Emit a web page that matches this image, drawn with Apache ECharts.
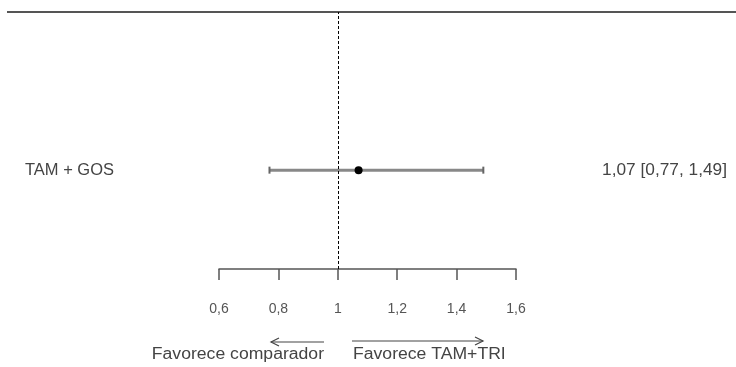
<!DOCTYPE html>
<html><head><meta charset="utf-8">
<script src="https://cdn.jsdelivr.net/npm/echarts@6/dist/echarts.min.js"></script>
<style>html,body{margin:0;padding:0;background:#fff}#c{width:736px;height:367px}</style>
</head><body><div id="c"></div>
<script>
// ---- data ----
const studies = ['TAM + GOS'];
const estimates = [1.07];
const lowerCI = [0.77];
const upperCI = [1.49];
const ciLabels = ['1,07 [0,77, 1,49]'];
const rowPos = [1];
const xTicks = [0.6, 0.8, 1, 1.2, 1.4, 1.6];
const refValue = 1;
const favorLeft = 'Favorece comparador';
const favorRight = 'Favorece TAM+TRI';

const chart = echarts.init(document.getElementById('c'), null, {renderer: 'canvas'});
const FONT = 'Liberation Sans, Arial, sans-serif';
const TXT = '#444';

const data = studies.map((s, i) => [estimates[i], lowerCI[i], upperCI[i], rowPos[i], i]);

chart.setOption({
  animation: false,
  backgroundColor: '#fff',
  grid: {left: 219, right: 220, top: 12, bottom: 98, containLabel: false},
  xAxis: {
    type: 'value', min: xTicks[0], max: xTicks[xTicks.length - 1], interval: 0.2,
    axisLine: {show: true, onZero: false, lineStyle: {color: '#555', width: 1.5}},
    axisTick: {show: true, length: 11, lineStyle: {color: '#555', width: 1.5}},
    axisLabel: {color: '#555', fontSize: 14, fontFamily: FONT, margin: 33,
      formatter: v => String(+(+v).toFixed(1)).replace('.', ',')},
    splitLine: {show: false}
  },
  yAxis: {type: 'value', min: 0, max: 2.6, show: false},
  graphic: [
    {type: 'line', shape: {x1: 7, y1: 12, x2: 736, y2: 12}, style: {stroke: '#555', lineWidth: 2}},
    {type: 'polyline', shape: {points: [[324, 342], [271, 342]]}, style: {stroke: '#444', lineWidth: 1.2, fill: null}},
    {type: 'polyline', shape: {points: [[279, 338], [271, 342], [279, 346]]}, style: {stroke: '#444', lineWidth: 1.2, fill: null}},
    {type: 'polyline', shape: {points: [[352, 341], [483, 341]]}, style: {stroke: '#444', lineWidth: 1.2, fill: null}},
    {type: 'polyline', shape: {points: [[475, 337], [483, 341], [475, 345]]}, style: {stroke: '#444', lineWidth: 1.2, fill: null}},
    {type: 'text', x: 324, y: 355, scaleX: 1.1, style: {x: 0, y: 0, text: favorLeft, align: 'right', verticalAlign: 'middle', fill: TXT, fontSize: 16, fontFamily: FONT}},
    {type: 'text', x: 353, y: 355, scaleX: 1.1, style: {x: 0, y: 0, text: favorRight, align: 'left', verticalAlign: 'middle', fill: TXT, fontSize: 16, fontFamily: FONT}}
  ],
  series: [{
    type: 'custom',
    clip: false,
    data: data,
    encode: {x: 0, y: 3},
    renderItem: function (params, api) {
      const row = api.value(3);
      const idx = api.value(4);
      const pE = api.coord([api.value(0), row]);
      const pL = api.coord([api.value(1), row]);
      const pH = api.coord([api.value(2), row]);
      const y = pE[1];
      return {
        type: 'group',
        children: [
          {type: 'line', shape: {x1: pL[0], y1: y, x2: pH[0], y2: y}, style: {stroke: '#888', lineWidth: 3}},
          {type: 'rect', shape: {x: pL[0] - 1, y: y - 3.5, width: 2, height: 7}, style: {fill: '#666'}},
          {type: 'rect', shape: {x: pH[0] - 1, y: y - 3.5, width: 2, height: 7}, style: {fill: '#666'}},
          {type: 'circle', shape: {cx: pE[0], cy: y, r: 4}, style: {fill: '#000'}},
          {type: 'text', x: 25, y: y, scaleX: 1.03, style: {x: 0, y: 0, text: studies[idx], align: 'left', verticalAlign: 'middle', fill: TXT, fontSize: 16, fontFamily: FONT}},
          {type: 'text', x: 727, y: y, scaleX: 1.08, style: {x: 0, y: 0, text: ciLabels[idx], align: 'right', verticalAlign: 'middle', fill: TXT, fontSize: 16, fontFamily: FONT}}
        ]
      };
    },
    markLine: {
      silent: true, symbol: 'none', label: {show: false},
      lineStyle: {color: '#000', type: [3, 2], width: 1},
      data: [{xAxis: refValue}]
    }
  }]
});
</script>
</body></html>
